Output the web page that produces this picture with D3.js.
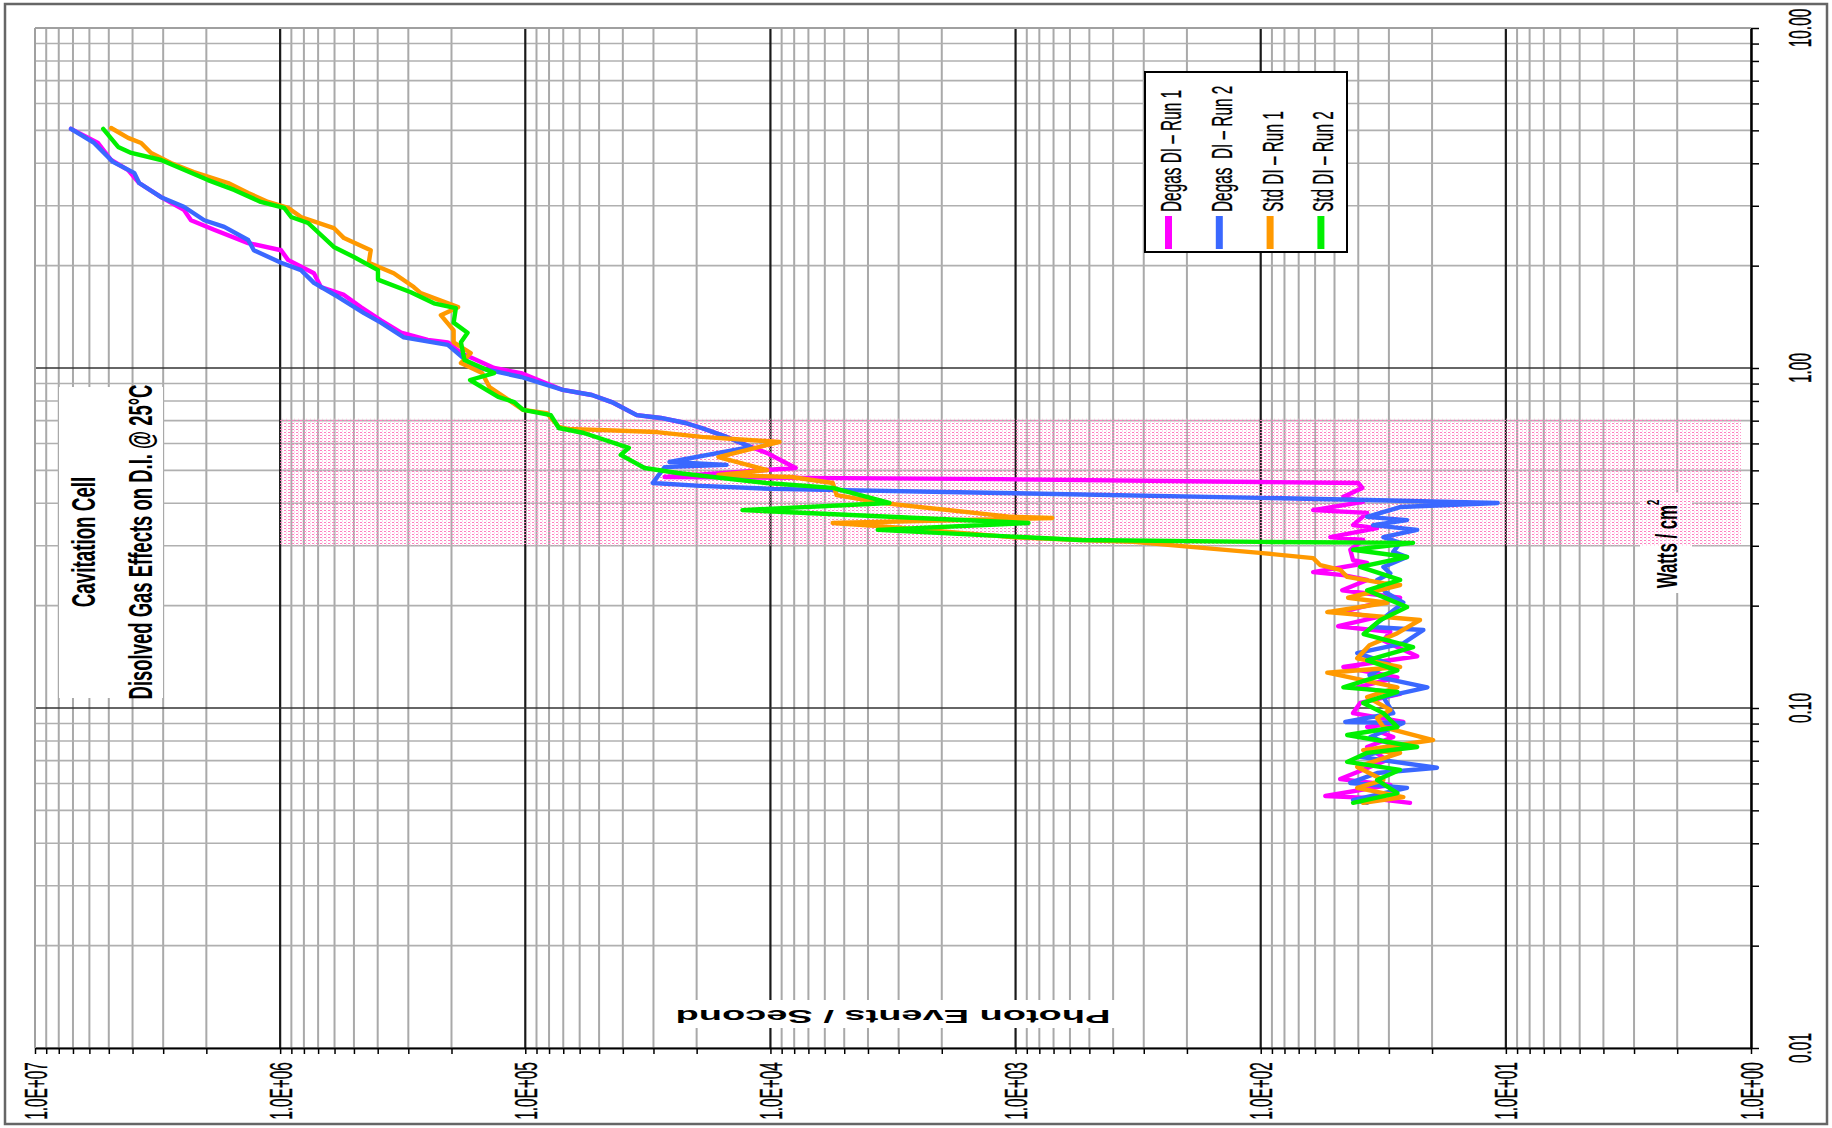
<!DOCTYPE html>
<html><head><meta charset="utf-8">
<script src="https://cdn.jsdelivr.net/npm/d3@7"></script>
<style>html,body{margin:0;padding:0;background:#fff;} svg{display:block;} text{font-family:"Liberation Sans",Arial,sans-serif;}</style>
</head><body>
<svg id="chart" width="1832" height="1128"></svg>
<script>
// ---------------- DATA ----------------
const seriesNames = ["Degas DI – Run 1", "Degas  DI – Run 2", "Std DI – Run 1", "Std DI – Run 2"];
const photonLabelTicks = [1e7, 1e6, 1e5, 1e4, 1e3, 1e2, 1e1, 1];
const wattLabelTicks = [10, 1, 0.1, 0.01];
const shadeWatts = [0.3, 0.71];
const shadePhotons = [1e6, 1.1];
const titleLines = ["Cavitation Cell", "Disolved Gas Effects on D.I. @ 25°C"];
const xTitle = "Watts / cm";
const yTitle = "Photon Events / Second";

// [watts/cm2, photon events per second]
const degasRun1 = [[5.05,7.13e6],[4.59,5.53e6],[4.09,4.89e6],[3.82,4.17e6],[3.50,3.76e6],[3.18,3.06e6],[2.92,2.47e6],[2.72,2.31e6],[2.55,1.86e6],[2.33,1.35e6],[2.22,9.91e5],[2.08,9.29e5],[1.90,7.28e5],[1.73,6.82e5],[1.64,5.49e5],[1.51,4.69e5],[1.38,3.88e5],[1.27,3.21e5],[1.21,2.50e5],[1.19,2.07e5],[1.107,1.83e5],[1.0,1.34e5],[0.966,1.04e5],[0.862,7.03e4],[0.833,5.35e4],[0.794,4.44e4],[0.727,3.51e4],[0.713,2.80e4],[0.689,2.22e4],[0.666,1.91e4],[0.627,1.51e4],[0.586,1.20e4],[0.562,1.03e4],[0.508,7.89e3],[0.478,2.70e4],[0.471,1.15e3],[0.462,101],[0.459,40.0],[0.444,38.5],[0.418,46.0],[0.404,38.2],[0.382,61.1],[0.375,36.8],[0.345,42.0],[0.338,33.5],[0.318,52.0],[0.312,38.2],[0.292,43.1],[0.272,42.0],[0.267,36.8],[0.251,61.1],[0.246,46.0],[0.238,36.8],[0.222,46.5],[0.211,27.0],[0.1915,47.4],[0.185,33.5],[0.174,48.3],[0.1675,29.6],[0.158,31.6],[0.142,23.0],[0.132,46.0],[0.123,27.7],[0.115,40.4],[0.110,27.0],[0.1035,39.3],[0.0966,42.0],[0.0910,26.2],[0.0879,36.8],[0.0822,28.8],[0.0768,36.8],[0.0703,30.5],[0.0618,47.4],[0.0594,29.6],[0.0551,54.5],[0.0544,36.8],[0.0526,24.6]];
const degasRun2 = [[5.05,7.13e6],[4.59,5.74e6],[4.04,4.81e6],[3.75,3.94e6],[3.50,3.76e6],[3.18,3.06e6],[2.98,2.47e6],[2.72,2.04e6],[2.60,1.69e6],[2.38,1.35e6],[2.22,1.28e6],[2.04,9.91e5],[1.94,8.22e5],[1.78,7.28e5],[1.62,5.81e5],[1.45,4.55e5],[1.36,3.88e5],[1.23,3.13e5],[1.17,2.07e5],[1.007,1.62e5],[0.941,1.04e5],[0.862,7.03e4],[0.833,5.35e4],[0.794,4.44e4],[0.727,3.51e4],[0.713,2.80e4],[0.689,2.22e4],[0.666,1.91e4],[0.627,1.51e4],[0.586,1.20e4],[0.529,2.58e4],[0.519,1.51e4],[0.511,2.70e4],[0.459,3.02e4],[0.450,1.93e4],[0.441,9.89e3],[0.429,1.15e3],[0.415,101],[0.409,36.8],[0.401,10.8],[0.390,27.0],[0.365,36.8],[0.357,25.3],[0.345,34.8],[0.334,23.0],[0.318,31.6],[0.306,27.0],[0.288,28.8],[0.278,25.3],[0.260,31.6],[0.249,29.6],[0.238,33.5],[0.219,31.0],[0.204,26.2],[0.173,35.1],[0.1696,21.7],[0.155,26.2],[0.145,40.4],[0.135,30.0],[0.125,36.0],[0.115,20.9],[0.1077,31.6],[0.0966,28.8],[0.0910,45.2],[0.0903,26.2],[0.0822,35.7],[0.0768,27.0],[0.0718,39.3],[0.0667,19.1],[0.0644,33.5],[0.0602,43.1],[0.0582,25.3],[0.0536,42.0],[0.0526,36.8]];
const stdRun1 = [[5.08,4.89e6],[4.75,4.17e6],[4.59,3.69e6],[4.29,3.36e6],[4.01,2.79e6],[3.77,2.25e6],[3.50,1.63e6],[3.27,1.35e6],[3.08,1.12e6],[2.96,9.29e5],[2.78,8.22e5],[2.58,6.04e5],[2.41,5.49e5],[2.22,4.27e5],[2.04,4.35e5],[1.90,3.44e5],[1.73,2.85e5],[1.66,2.67e5],[1.51,1.88e5],[1.43,2.21e5],[1.29,1.96e5],[1.19,1.96e5],[1.107,1.67e5],[1.034,1.83e5],[0.966,1.50e5],[0.879,1.40e5],[0.816,1.20e5],[0.753,1.02e5],[0.737,8.17e4],[0.671,7.30e4],[0.662,6.71e4],[0.648,2.91e4],[0.627,1.91e4],[0.606,9.18e3],[0.547,1.63e4],[0.501,1.03e4],[0.485,1.63e4],[0.478,8.20e3],[0.459,5.57e3],[0.423,5.37e3],[0.401,3.52e3],[0.365,1.04e3],[0.362,708],[0.350,5.57e3],[0.341,3.27e3],[0.318,1.04e3],[0.312,544],[0.308,330],[0.286,101],[0.276,61.1],[0.263,57.1],[0.255,47.4],[0.243,44.4],[0.233,31.6],[0.230,27.0],[0.211,44.0],[0.204,30.5],[0.1915,53.5],[0.1815,22.4],[0.166,27.7],[0.153,36.0],[0.140,40.4],[0.132,27.0],[0.127,53.5],[0.115,27.7],[0.1077,36.8],[0.0987,29.6],[0.0935,33.5],[0.0879,31.6],[0.0805,19.8],[0.0752,38.2],[0.0738,27.0],[0.0671,40.4],[0.0614,31.6],[0.0582,40.4],[0.0547,26.2],[0.0526,38.2]];
const stdRun2 = [[5.05,5.27e6],[4.47,4.58e6],[4.29,4.05e6],[4.09,3.06e6],[3.75,2.31e6],[3.57,1.97e6],[3.34,1.54e6],[3.08,1.20e6],[2.96,9.64e5],[2.78,9.02e5],[2.67,7.69e5],[2.27,6.04e5],[2.12,5.00e5],[1.94,3.99e5],[1.82,3.99e5],[1.67,2.93e5],[1.55,2.36e5],[1.50,1.92e5],[1.36,1.96e5],[1.27,1.72e5],[1.19,1.83e5],[1.055,1.77e5],[0.966,1.34e5],[0.922,1.68e5],[0.822,1.29e5],[0.794,1.11e5],[0.753,1.02e5],[0.727,7.87e4],[0.666,7.30e4],[0.644,5.77e4],[0.582,3.78e4],[0.555,4.08e4],[0.508,3.26e4],[0.491,2.39e4],[0.459,1.04e4],[0.444,5.57e3],[0.401,3.27e3],[0.382,1.30e4],[0.350,886],[0.334,3.65e3],[0.312,544],[0.308,101],[0.306,23.9],[0.292,42.0],[0.278,25.3],[0.260,39.3],[0.238,27.0],[0.222,36.8],[0.198,25.3],[0.1815,32.5],[0.165,38.0],[0.151,23.9],[0.138,36.8],[0.129,27.7],[0.115,46.0],[0.1115,27.7],[0.1035,38.2],[0.0966,31.6],[0.0879,27.7],[0.0833,44.4],[0.0768,23.0],[0.0738,36.8],[0.0694,44.4],[0.0658,27.0],[0.0614,33.5],[0.0562,27.7],[0.0526,42.0]];

const seriesData = [degasRun1, degasRun2, stdRun1, stdRun2];
const seriesColors = ["#ff00ff", "#3a68ff", "#ff9900", "#00f000"];

// ---------------- LAYOUT ----------------
const W = 1832, H = 1128;
const plot = {left: 35, right: 1751, top: 28, bottom: 1048};
const svg = d3.select("#chart");

const xP = d3.scaleLog().domain([1e7, 1]).range([plot.left, plot.right]);
const yW = d3.scaleLog().domain([0.01, 10]).range([plot.bottom, plot.top]);
const isDecade = v => Math.abs(Math.log10(v) - Math.round(Math.log10(v))) < 1e-9;

svg.append("rect").attr("width", W).attr("height", H).attr("fill", "#fff");
svg.append("rect").attr("x", 5).attr("y", 4).attr("width", 1822).attr("height", 1120)
  .attr("fill", "none").attr("stroke", "#666").attr("stroke-width", 2.5);

// pattern for shaded band
const defs = svg.append("defs");
const pat = defs.append("pattern").attr("id", "dots").attr("patternUnits", "userSpaceOnUse")
  .attr("width", 4).attr("height", 3);
pat.append("rect").attr("x", 0).attr("y", 0).attr("width", 2).attr("height", 1).attr("fill", "#ff80c0");
pat.append("rect").attr("x", 2).attr("y", 1.5).attr("width", 1).attr("height", 1).attr("fill", "#ffb0d8");

// gridlines
const xTicks = xP.ticks();
const yTicks = yW.ticks();
const grid = svg.append("g");
grid.selectAll("line.vmin").data(xTicks.filter(v => !(isDecade(v) && v !== 1e7 && v !== 1)))
  .join("line").attr("x1", d => xP(d)).attr("x2", d => xP(d))
  .attr("y1", plot.top).attr("y2", plot.bottom).attr("stroke", "#a9a9a9").attr("stroke-width", 2);
grid.selectAll("line.hmin").data(yTicks.filter(v => !(isDecade(v) && v !== 10 && v !== 0.01)))
  .join("line").attr("x1", plot.left).attr("x2", plot.right)
  .attr("y1", d => yW(d)).attr("y2", d => yW(d)).attr("stroke", "#b0b0b0").attr("stroke-width", 1.6);
grid.selectAll("line.vmaj").data(xTicks.filter(v => isDecade(v) && v !== 1e7 && v !== 1))
  .join("line").attr("x1", d => xP(d)).attr("x2", d => xP(d))
  .attr("y1", plot.top).attr("y2", plot.bottom).attr("stroke", "#1a1a1a").attr("stroke-width", 2.2);
grid.selectAll("line.hmaj").data(yTicks.filter(v => isDecade(v) && v !== 10 && v !== 0.01))
  .join("line").attr("x1", plot.left).attr("x2", plot.right)
  .attr("y1", d => yW(d)).attr("y2", d => yW(d)).attr("stroke", "#333").attr("stroke-width", 1.6);

// white boxes behind texts
svg.append("rect").attr("x", 59).attr("y", 387).attr("width", 104).attr("height", 311).attr("fill", "#fff");
svg.append("rect").attr("x", 1640).attr("y", 493).attr("width", 52).attr("height", 100).attr("fill", "#fff");
svg.append("rect").attr("x", 662).attr("y", 1000).attr("width", 462).attr("height", 28).attr("fill", "#fff");

// shaded band
svg.append("rect")
  .attr("x", xP(shadePhotons[0])).attr("width", xP(shadePhotons[1]) - xP(shadePhotons[0]))
  .attr("y", yW(shadeWatts[1])).attr("height", yW(shadeWatts[0]) - yW(shadeWatts[1]))
  .attr("fill", "url(#dots)");

// axes
const xAxis = d3.axisBottom(xP).tickValues(xTicks).tickSize(6).tickSizeOuter(0).tickFormat("");
const gx = svg.append("g").attr("transform", `translate(0,${plot.bottom})`).call(xAxis);
gx.select(".domain").attr("stroke", "#000").attr("stroke-width", 2);
gx.selectAll(".tick line").attr("stroke", "#000").attr("stroke-width", 1.5);
const yAxis = d3.axisRight(yW).tickValues(yTicks).tickSize(8).tickSizeOuter(0).tickFormat("");
const gy = svg.append("g").attr("transform", `translate(${plot.right},0)`).call(yAxis);
gy.select(".domain").attr("stroke", "#000").attr("stroke-width", 2.5);
gy.selectAll(".tick line").attr("stroke", "#000").attr("stroke-width", 1.5);
svg.append("line").attr("x1", plot.left).attr("x2", plot.right).attr("y1", plot.top).attr("y2", plot.top)
  .attr("stroke", "#a0a0a0").attr("stroke-width", 2);
svg.append("line").attr("x1", plot.left).attr("x2", plot.left).attr("y1", plot.top).attr("y2", plot.bottom)
  .attr("stroke", "#a0a0a0").attr("stroke-width", 2);

// tick labels
const expFmt = v => { const e = Math.round(Math.log10(v)); return "1.0E+" + String(e).padStart(2, "0"); };
svg.append("g").selectAll("text").data(photonLabelTicks).join("text")
  .attr("transform", d => `translate(${xP(d) + 11.5},1091) rotate(-90) scale(0.48,1)`)
  .attr("text-anchor", "middle").attr("font-size", 32).attr("fill", "#000")
  .attr("stroke", "#000").attr("stroke-width", 0.4).text(expFmt);
svg.append("g").selectAll("text").data(wattLabelTicks).join("text")
  .attr("transform", d => `translate(1811,${yW(d)}) rotate(-90) scale(0.48,1)`)
  .attr("text-anchor", "middle").attr("font-size", 32).attr("fill", "#000")
  .attr("stroke", "#000").attr("stroke-width", 0.4).text(d3.format(".2f"));

// axis titles
const xt = svg.append("text").attr("transform", "translate(1677,544) rotate(-90) scale(0.56,1)")
  .attr("text-anchor", "middle").attr("font-size", 30).attr("font-weight", "bold");
xt.append("tspan").text(xTitle);
xt.append("tspan").attr("font-size", 17).attr("dy", -18).text("2");
svg.append("text").attr("transform", "translate(893,1010) rotate(180) scale(2.0,1)")
  .attr("text-anchor", "middle").attr("font-size", 19).attr("font-weight", "bold").text(yTitle);

// chart title
svg.append("text").attr("transform", "translate(95,542) rotate(-90) scale(0.57,1)")
  .attr("text-anchor", "middle").attr("font-size", 33).attr("font-weight", "bold").text(titleLines[0]);
svg.append("text").attr("transform", "translate(152,542) rotate(-90) scale(0.56,1)")
  .attr("text-anchor", "middle").attr("font-size", 33).attr("font-weight", "bold").text(titleLines[1]);

// data lines
const line = d3.line().x(d => xP(d[1])).y(d => yW(d[0]));
svg.append("g").selectAll("path").data(seriesData).join("path")
  .attr("d", line).attr("fill", "none")
  .attr("stroke", (d, i) => seriesColors[i]).attr("stroke-width", 4.4)
  .attr("stroke-linejoin", "round").attr("stroke-linecap", "round");

// legend
const lg = svg.append("g");
lg.append("rect").attr("x", 1145).attr("y", 72).attr("width", 202).attr("height", 180)
  .attr("fill", "#fff").attr("stroke", "#000").attr("stroke-width", 2);
seriesNames.forEach((name, i) => {
  const bx = 1181 + i * 50.8;
  lg.append("rect").attr("x", bx - 16).attr("y", 216).attr("width", 7).attr("height", 33)
    .attr("fill", seriesColors[i]);
  lg.append("text").attr("transform", `translate(${bx},212) rotate(-90) scale(0.53,1)`)
    .attr("xml:space", "preserve").style("white-space", "pre")
    .attr("font-size", 29).attr("stroke", "#000").attr("stroke-width", 0.3).text(name);
});
</script>
</body></html>
